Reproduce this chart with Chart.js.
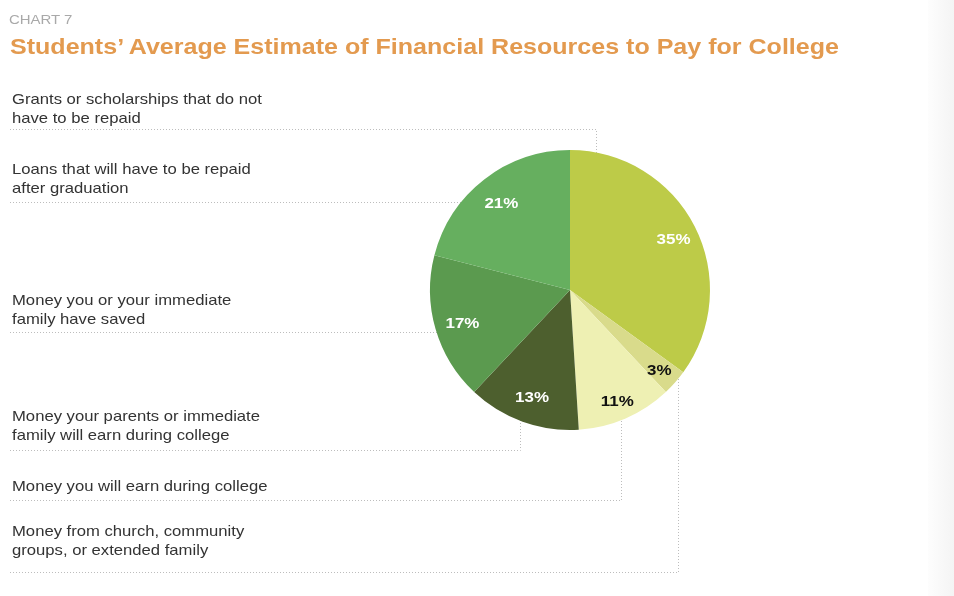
<!DOCTYPE html>
<html><head><meta charset="utf-8">
<script src="https://cdn.jsdelivr.net/npm/chart.js@4/dist/chart.umd.min.js"></script>
<style>
html,body{margin:0;padding:0;background:#fff;}
#wrap{position:relative;width:954px;height:596px;overflow:hidden;font-family:"Liberation Sans",Arial,Helvetica,sans-serif;background:#fff;}
#c{position:absolute;left:0;top:0;}
.kicker{position:absolute;left:9px;top:12px;font-size:13px;color:#a9a9a9;white-space:nowrap;transform:scaleX(1.15);transform-origin:left top;}
.title{position:absolute;left:10px;top:34px;font-size:22.5px;font-weight:bold;color:#e39a4f;white-space:nowrap;transform:scaleX(1.113);transform-origin:left top;}
.lab{position:absolute;left:12px;font-size:15px;line-height:19px;color:#333;white-space:nowrap;transform:scaleX(1.11);transform-origin:left top;}
#edge{position:absolute;right:0;top:0;width:26px;height:596px;background:linear-gradient(to right,#fdfdfd,#f4f4f4);}
</style></head>
<body>
<div id="wrap">
  <div id="edge"></div>
  <canvas id="c" width="954" height="596"></canvas>
  <div class="kicker">CHART 7</div>
  <div class="title">Students’ Average Estimate of Financial Resources to Pay for College</div>
  <div id="labels"></div>
</div>
<script>
// ---- data ----
const categories = [
  "Grants or scholarships that do not have to be repaid",
  "Money from church, community groups, or extended family",
  "Money you will earn during college",
  "Money your parents or immediate family will earn during college",
  "Money you or your immediate family have saved",
  "Loans that will have to be repaid after graduation"
];
const values = [35, 3, 11, 13, 17, 21];
const labelLines = [
  ["Grants or scholarships that do not", "have to be repaid"],
  ["Money from church, community", "groups, or extended family"],
  ["Money you will earn during college"],
  ["Money your parents or immediate", "family will earn during college"],
  ["Money you or your immediate", "family have saved"],
  ["Loans that will have to be repaid", "after graduation"]
];

// ---- styles / layout ----
const sliceColors = ["#bdcb48", "#d9db8b", "#eef0b3", "#4d5f2e", "#5b9a4f", "#66af5f"];
const valueTextColors = ["#ffffff", "#111111", "#111111", "#ffffff", "#ffffff", "#ffffff"];
const valueRadiusFactor = [0.83, 0.85, 0.85, 0.8, 0.8, 0.8];
const labelTop = [89, 521, 476, 406, 289.5, 158.5];
const leaderY = [129.5, 572.5, 500.5, 450.5, 332.5, 202.5];
const leaderBendX = [596.5, 678.5, 621.5, 520.5, null, null];

// HTML category labels
const lc = document.getElementById('labels');
labelLines.forEach((lines, i) => {
  const d = document.createElement('div');
  d.className = 'lab';
  d.style.top = labelTop[i] + 'px';
  d.title = categories[i];
  d.innerHTML = lines.join('<br>');
  lc.appendChild(d);
});

const leaders = {
  id: 'leaders',
  beforeDatasetsDraw(chart) {
    const meta = chart.getDatasetMeta(0);
    const a0 = meta.data[0];
    const cx = a0.x, cy = a0.y, r = a0.outerRadius;
    const ctx = chart.ctx;
    ctx.save();
    ctx.strokeStyle = '#bdbdbd';
    ctx.lineWidth = 1;
    ctx.setLineDash([1, 2]);
    leaderY.forEach((y, i) => {
      ctx.beginPath();
      ctx.moveTo(10, y);
      const bx = leaderBendX[i];
      if (bx !== null) {
        const dx = bx - cx;
        const h = Math.sqrt(Math.max(r * r - dx * dx, 0));
        const ey = y < cy ? cy - h + 3 : cy + h - 3;
        ctx.lineTo(bx, y);
        ctx.lineTo(bx, ey);
      } else {
        const dy = y - cy;
        const w = Math.sqrt(Math.max(r * r - dy * dy, 0));
        ctx.lineTo(cx - w + 3, y);
      }
      ctx.stroke();
    });
    ctx.restore();
  }
};

const valueLabels = {
  id: 'valueLabels',
  afterDatasetsDraw(chart) {
    const ctx = chart.ctx;
    const meta = chart.getDatasetMeta(0);
    meta.data.forEach((arc, i) => {
      const p = arc.getProps(['x', 'y', 'startAngle', 'endAngle', 'outerRadius'], true);
      const mid = (p.startAngle + p.endAngle) / 2;
      const rr = p.outerRadius * valueRadiusFactor[i];
      ctx.save();
      ctx.translate(p.x + Math.cos(mid) * rr, p.y + Math.sin(mid) * rr + 2.5);
      ctx.scale(1.13, 1);
      ctx.font = 'bold 15px "Liberation Sans", Arial, sans-serif';
      ctx.textAlign = 'center';
      ctx.textBaseline = 'middle';
      ctx.fillStyle = valueTextColors[i];
      ctx.fillText(values[i] + '%', 0, 0);
      ctx.restore();
    });
  }
};

new Chart(document.getElementById('c'), {
  type: 'pie',
  data: {
    labels: categories,
    datasets: [{
      data: values,
      backgroundColor: sliceColors,
      borderWidth: 0
    }]
  },
  options: {
    responsive: false,
    animation: false,
    layout: { padding: { left: 430, right: 244, top: 150, bottom: 166 } },
    plugins: { legend: { display: false }, tooltip: { enabled: false } }
  },
  plugins: [leaders, valueLabels]
});
</script>
</body></html>
